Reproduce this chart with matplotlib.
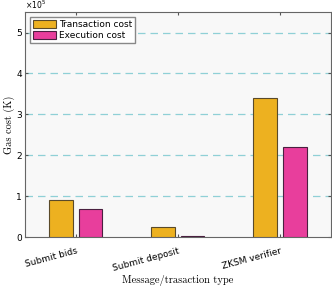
import numpy as np
import matplotlib.pyplot as plt

categories = ["Submit bids", "Submit deposit", "ZKSM verifier"]
transaction_cost = [0.90, 0.24, 3.40]   # x 1e5
execution_cost = [0.68, 0.03, 2.20]     # x 1e5

fig = plt.figure(figsize=(3.32, 2.87), dpi=100)
ax = fig.add_axes([0.075, 0.174, 0.922, 0.784])
ax.set_facecolor("#f8f8f8")

x = np.arange(1, len(categories) + 1)
w = 0.23
ax.bar(x - 0.145, transaction_cost, w, color="#edb120", edgecolor="#5a4a2a",
       linewidth=0.8, label="Transaction cost", zorder=3)
ax.bar(x + 0.145, execution_cost, w, color="#e83e9c", edgecolor="#4a2040",
       linewidth=0.8, label="Execution cost", zorder=3)

ax.set_xlim(0.5, 3.5)
ax.set_ylim(0, 5.5)
ax.set_yticks(np.arange(0, 6))
ax.set_xticks(x)
ax.set_xticklabels(categories, rotation=15, ha="right", rotation_mode="anchor",
                   fontsize=6.5)
ax.tick_params(axis="y", labelsize=6.5, pad=2)
ax.tick_params(axis="x", pad=7)
ax.tick_params(direction="in", length=2.5, top=True, right=True, color="#555555")

ax.text(0.0, 1.004, r"$\times10^5$", transform=ax.transAxes, fontsize=5.5,
        ha="left", va="bottom")

for v in range(1, 6):
    ax.axhline(v, color="#8fd0d6", linestyle=(0, (6, 4)), linewidth=0.9, zorder=1)

for s in ax.spines.values():
    s.set_color("#666666")
    s.set_linewidth(0.8)

ax.set_ylabel("Gas cost (K)", fontfamily="cmr10", fontsize=7.5)
ax.yaxis.set_label_coords(-0.033, 0.5)
ax.set_xlabel("Message/trasaction type", fontfamily="cmr10", fontsize=7.5, labelpad=1)

leg = ax.legend(loc="upper left", fontsize=6.5, fancybox=False, edgecolor="#888888",
                framealpha=1, handlelength=2.6, handleheight=1.0,
                borderpad=0.3, labelspacing=0.15, handletextpad=0.3,
                borderaxespad=0.6)

fig.savefig("out.png", dpi=100)
